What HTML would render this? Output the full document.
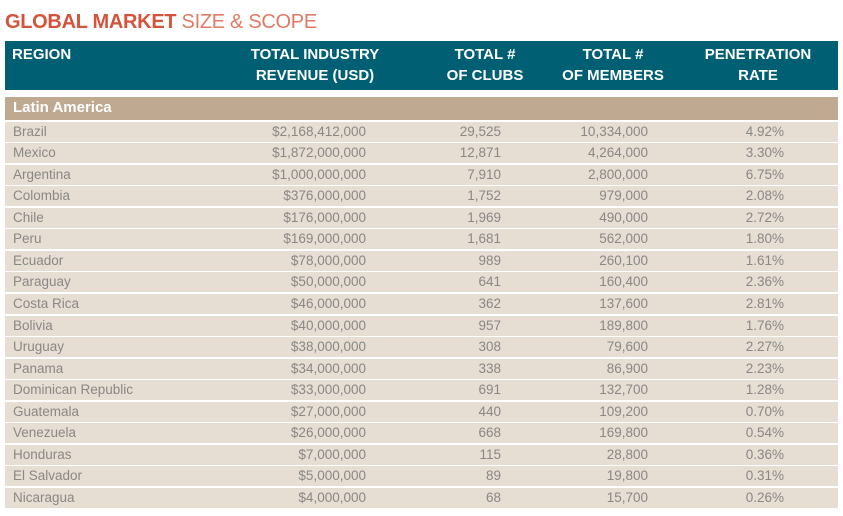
<!DOCTYPE html>
<html><head><meta charset="utf-8">
<style>
body{margin:0;width:843px;height:516px;background:#fff;position:relative;overflow:hidden;font-family:"Liberation Sans",sans-serif;}
.a{position:absolute;white-space:nowrap;}
#title{left:5px;top:11px;font-size:20px;color:#d5533a;letter-spacing:-0.3px}
#title b{font-weight:bold}
#title span{font-weight:normal;color:#e07a63}
#hdr{left:5px;top:41px;width:833px;height:49px;background:#005f73}
.h{color:#fff;font-weight:bold;font-size:15px;line-height:21px;top:44px;text-align:center}
#band{left:5px;top:97px;width:833px;height:23px;background:#bfa991}
#band span{position:absolute;left:8px;top:2px;color:#fff;font-weight:bold;font-size:15px}
.row{position:absolute;left:5px;width:833px;height:20px;background:#e6ddd3;font-size:13.5px;color:#8a8785}
.row div{position:absolute;top:2px}
.c0{left:8px}.c1{right:472px}.c2{right:337px}.c3{right:190px}.c4{right:54px}
</style></head><body>
<div class="a" id="title"><b>GLOBAL MARKET</b> <span>SIZE &amp; SCOPE</span></div>
<div class="a" id="hdr"></div>
<div class="a h" style="left:12px;text-align:left">REGION</div>
<div class="a h" style="left:235px;width:160px">TOTAL INDUSTRY<br>REVENUE (USD)</div>
<div class="a h" style="left:425px;width:120px">TOTAL #<br>OF CLUBS</div>
<div class="a h" style="left:548px;width:130px">TOTAL #<br>OF MEMBERS</div>
<div class="a h" style="left:693px;width:130px">PENETRATION<br>RATE</div>
<div class="a" id="band"><span>Latin America</span></div>
<div id="rows"></div>
<script>
const countries=["Brazil","Mexico","Argentina","Colombia","Chile","Peru","Ecuador","Paraguay","Costa Rica","Bolivia","Uruguay","Panama","Dominican Republic","Guatemala","Venezuela","Honduras","El Salvador","Nicaragua"];
const revenue=["$2,168,412,000","$1,872,000,000","$1,000,000,000","$376,000,000","$176,000,000","$169,000,000","$78,000,000","$50,000,000","$46,000,000","$40,000,000","$38,000,000","$34,000,000","$33,000,000","$27,000,000","$26,000,000","$7,000,000","$5,000,000","$4,000,000"];
const clubs=["29,525","12,871","7,910","1,752","1,969","1,681","989","641","362","957","308","338","691","440","668","115","89","68"];
const members=["10,334,000","4,264,000","2,800,000","979,000","490,000","562,000","260,100","160,400","137,600","189,800","79,600","86,900","132,700","109,200","169,800","28,800","19,800","15,700"];
const rates=["4.92%","3.30%","6.75%","2.08%","2.72%","1.80%","1.61%","2.36%","2.81%","1.76%","2.27%","2.23%","1.28%","0.70%","0.54%","0.36%","0.31%","0.26%"];
const host=document.getElementById('rows');
countries.forEach((c,i)=>{
  const r=document.createElement('div');
  r.className='row';
  r.style.top=(121.5+i*21.56)+'px';
  
  
  const vals=[c,revenue[i],clubs[i],members[i],rates[i]];
  const names=['country-name','revenue-value','clubs-value','members-value','penetration-value'];
  vals.forEach((v,j)=>{
    const d=document.createElement('div');
    d.className='c'+j;
    d.textContent=v;
    
    
    r.appendChild(d);
  });
  host.appendChild(r);
});
</script>
</body></html>
